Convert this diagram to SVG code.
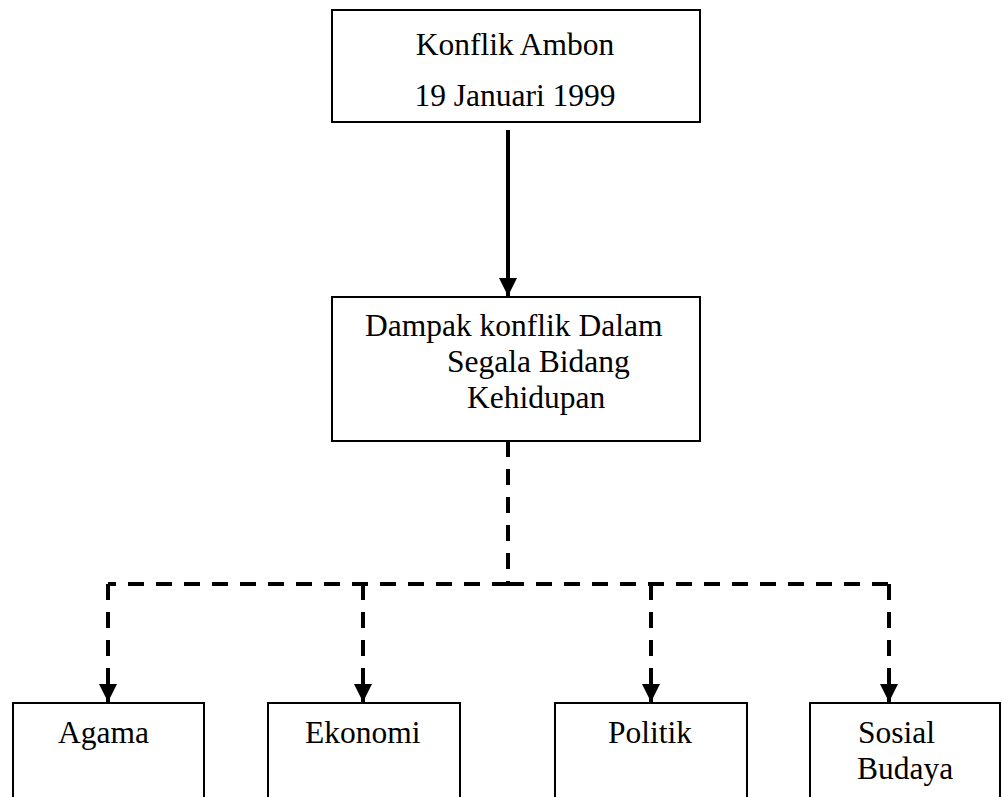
<svg xmlns="http://www.w3.org/2000/svg" width="1002" height="797" viewBox="0 0 1002 797">
<style>
.box{fill:#fff;stroke:#000;stroke-width:2}
.t{font-family:"Liberation Serif","Times New Roman",serif;font-size:31.5px;fill:#000}
.solid{stroke:#000;stroke-width:4;fill:none}
.dash{stroke:#000;stroke-width:4;fill:none;stroke-dasharray:16 12}
</style>
<defs>
<marker id="ah" markerUnits="userSpaceOnUse" markerWidth="18" markerHeight="18" viewBox="0 0 16 16" refX="16" refY="8" orient="auto">
<path d="M0,0 L16,8 L0,16 Z" fill="#000"/>
</marker>
</defs>
<rect width="1002" height="797" fill="#fff"/>
<g id="connectors">
<line class="solid" x1="508" y1="130" x2="508" y2="296" marker-end="url(#ah)"/>
<path class="dash" d="M508,441 V584"/>
<path class="dash" d="M508,584 H108"/>
<path class="dash" d="M508,584 H889"/>
<path class="dash" d="M108,584 V702" marker-end="url(#ah)"/>
<path class="dash" d="M363,584 V702" marker-end="url(#ah)"/>
<path class="dash" d="M651,584 V702" marker-end="url(#ah)"/>
<path class="dash" d="M889,584 V702" marker-end="url(#ah)"/>
</g>
<g id="node-konflik">
<rect class="box" x="332" y="10" width="368" height="112"/>
<text class="t" x="515" y="55" text-anchor="middle">Konflik Ambon</text>
<text class="t" x="515" y="106" text-anchor="middle">19 Januari 1999</text>
</g>
<g id="node-dampak">
<rect class="box" x="332" y="297" width="368" height="144"/>
<text class="t" x="365" y="336">Dampak konflik Dalam</text>
<text class="t" x="447" y="372">Segala Bidang</text>
<text class="t" x="467" y="408">Kehidupan</text>
</g>
<g id="node-agama">
<rect class="box" x="13" y="703" width="191" height="110"/>
<text class="t" x="58" y="743">Agama</text>
</g>
<g id="node-ekonomi">
<rect class="box" x="268" y="703" width="192" height="110"/>
<text class="t" x="305" y="743">Ekonomi</text>
</g>
<g id="node-politik">
<rect class="box" x="555" y="703" width="192" height="110"/>
<text class="t" x="608" y="743">Politik</text>
</g>
<g id="node-sosial">
<rect class="box" x="810" y="703" width="190" height="110"/>
<text class="t" x="858" y="743">Sosial</text>
<text class="t" x="857" y="779">Budaya</text>
</g>
</svg>
